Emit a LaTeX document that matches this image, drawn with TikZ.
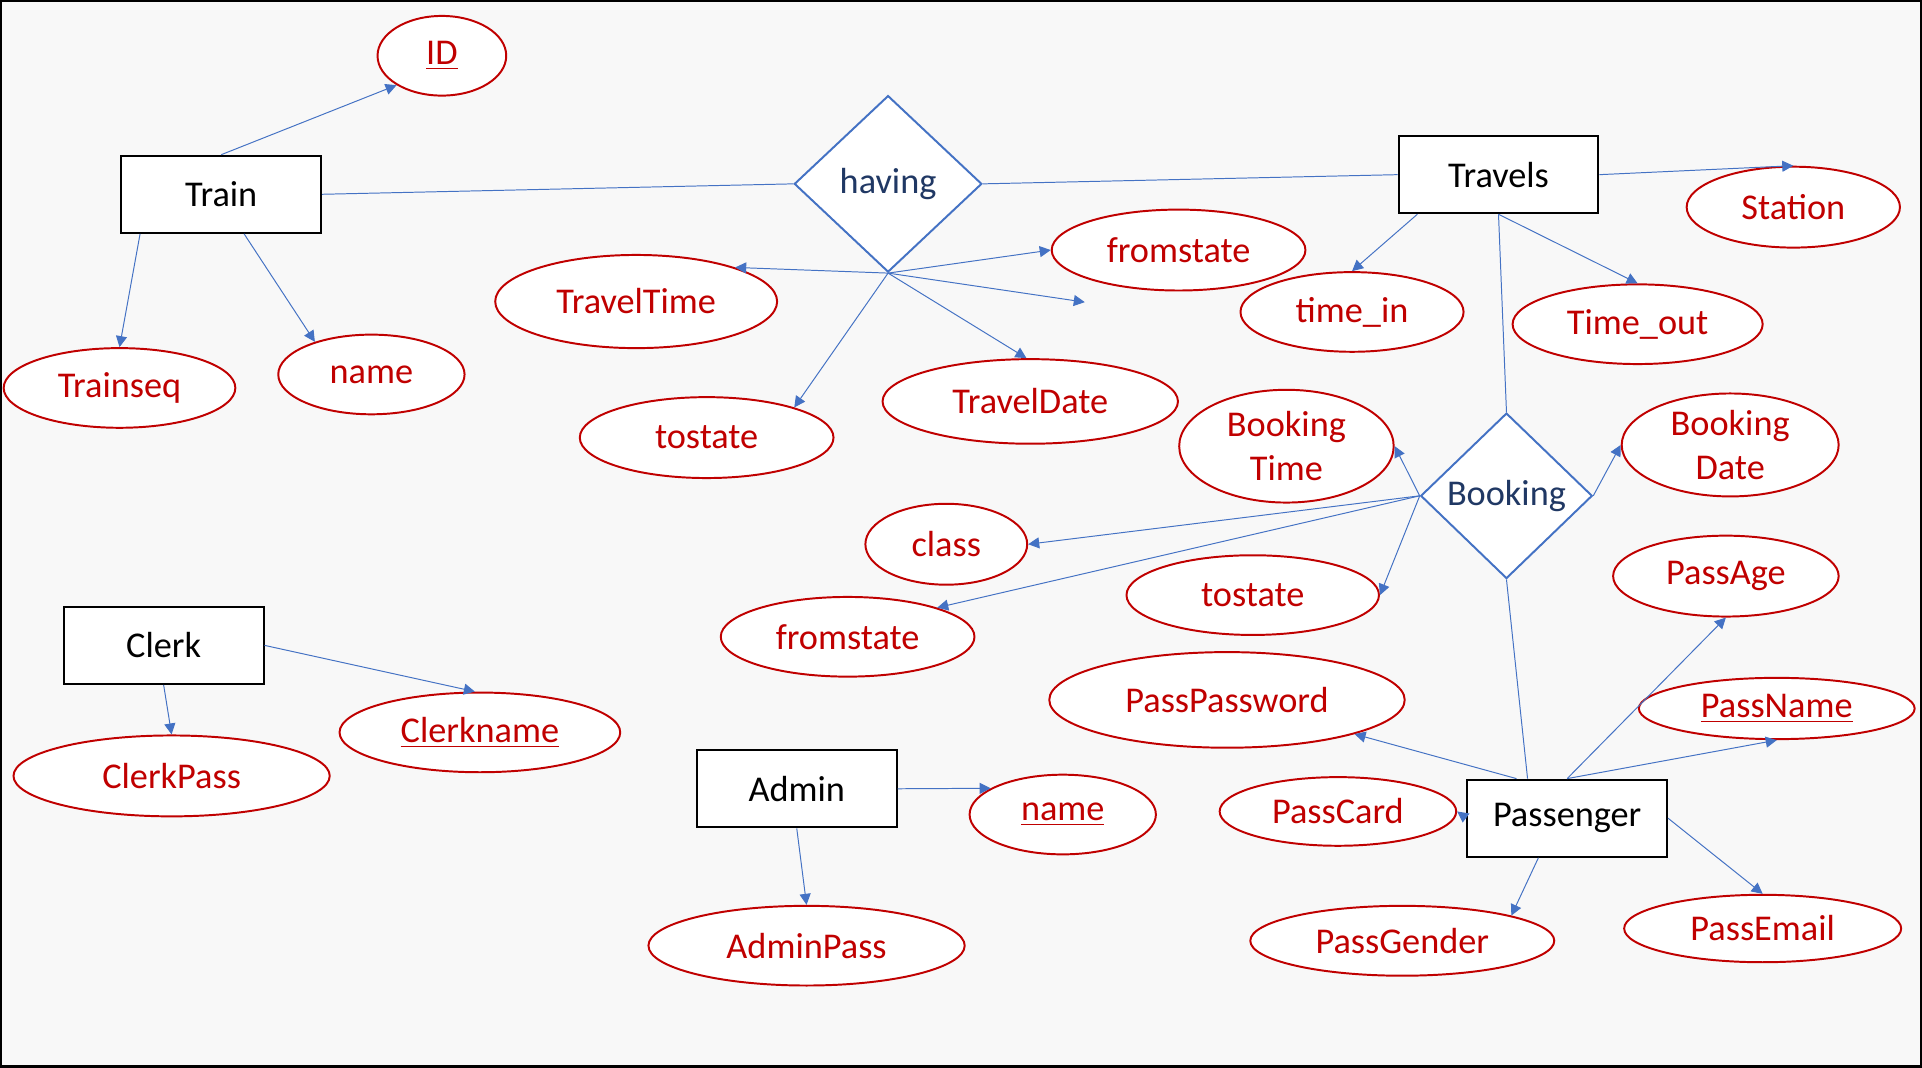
\documentclass[tikz,border=0pt]{standalone}
\usepackage{fontspec}
\setmainfont{Carlito}
\usetikzlibrary{arrows.meta,shapes}

\definecolor{attrred}{HTML}{C00000}
\definecolor{linkblue}{HTML}{4472C4}
\definecolor{relnavy}{HTML}{203864}
\definecolor{paper}{HTML}{F8F8F8}

\begin{document}
\begin{tikzpicture}[x=0.5pt,y=-0.5pt,font=\fontsize{14.8}{18}\selectfont]

\tikzstyle{entity}=[draw=black,line width=0.8pt,fill=white,minimum width=81.5pt,minimum height=31.5pt,inner sep=0pt]
\tikzstyle{attr}=[ellipse,draw=attrred,line width=0.8pt,fill=white,text=attrred,inner sep=0pt,align=center]
\tikzstyle{rel}=[diamond,aspect=1,draw=linkblue,line width=0.8pt,fill=white,text=relnavy,inner sep=0pt]
\tikzstyle{link}=[linkblue,line width=0.4pt]
\tikzstyle{arr}=[link,-{Triangle[length=4.5pt,width=4.5pt]}]

%page
\useasboundingbox (0,0) rectangle (1568,871);
\draw[fill=paper,line width=1pt] (1,1) rectangle (1567,870);

%Train
\node[entity] (train) at (180.5,158.5) {Train};
\node[attr,minimum width=52.5pt,minimum height=32.5pt] (id) at (360.5,45.5) {\underline{ID}};
\node[attr,minimum width=94.5pt,minimum height=32.5pt] (trainseq) at (97.5,316.5) {Trainseq};
\node[attr,minimum width=76pt,minimum height=32.5pt] (trainname) at (303,305.5) {name};

%having
\node[rel,minimum width=76.5pt,minimum height=72pt] (having) at (724.5,150) {having};
\node[attr,minimum width=115pt,minimum height=38pt] (traveltime) at (519,246) {TravelTime};
\node[attr,minimum width=103.5pt,minimum height=33pt] (tostate) at (576.5,357) {tostate};
\node[attr,minimum width=120.5pt,minimum height=34.5pt] (traveldate) at (840.5,327.5) {TravelDate};
\node[attr,minimum width=103.5pt,minimum height=33pt] (fromstate) at (961.5,204) {fromstate};
\coordinate (hv) at (885,246.5);

%Travels
\node[entity] (travels) at (1222.5,142.5) {Travels};
\node[attr,minimum width=91pt,minimum height=32.5pt] (timein) at (1103,254.5) {time\_in};
\node[attr,minimum width=102pt,minimum height=32.5pt] (timeout) at (1336,264.5) {Time\_out};
\node[attr,minimum width=87pt,minimum height=33pt] (station) at (1463,169) {Station};

%Booking
\node[rel,minimum width=70pt,minimum height=67.5pt] (booking) at (1229,404.5) {Booking};
\node[attr,minimum width=87.5pt,minimum height=46pt] (bookingtime) at (1049.5,364) {Booking\\Time};
\node[attr,minimum width=88.5pt,minimum height=42pt] (bookingdate) at (1411.5,363) {Booking\\Date};
\node[attr,minimum width=66pt,minimum height=33pt] (class) at (772,444) {class};
\node[attr,minimum width=103pt,minimum height=32.5pt] (tostatetwo) at (1022,485.5) {tostate};
\node[attr,minimum width=103.5pt,minimum height=32.5pt] (fromstatetwo) at (691.5,519.5) {fromstate};

%Passenger
\node[entity] (passenger) at (1278.5,667.5) {Passenger};
\node[attr,minimum width=92pt,minimum height=33pt] (passage) at (1408,470) {PassAge};
\node[attr,minimum width=145pt,minimum height=39pt] (passpassword) at (1001,571) {PassPassword};
\node[attr,minimum width=112.5pt,minimum height=25pt] (passname) at (1449.5,578) {\underline{PassName}};
\node[attr,minimum width=96.5pt,minimum height=28pt] (passcard) at (1091.5,662) {PassCard};
\node[attr,minimum width=124pt,minimum height=28.5pt] (passgender) at (1144,767.5) {PassGender};
\node[attr,minimum width=113pt,minimum height=27.5pt] (passemail) at (1438,757.5) {PassEmail};

%Clerk
\node[entity] (clerk) at (133.5,526.5) {Clerk};
\node[attr,minimum width=114.5pt,minimum height=32.5pt] (clerkname) at (391.5,597.5) {\underline{Clerkname}};
\node[attr,minimum width=129pt,minimum height=33pt] (clerkpass) at (140,633) {ClerkPass};

%Admin
\node[entity] (admin) at (650,643.5) {Admin};
\node[attr,minimum width=76pt,minimum height=32.5pt] (adminname) at (867,664.5) {\underline{name}};
\node[attr,minimum width=129pt,minimum height=32.5pt] (adminpass) at (658,771.5) {AdminPass};

%Train links
\path [arr] (train.north) edge (id.213)
            (train.206) edge (trainseq.north)
            (train.300) edge (trainname.150);
\path [link] (train.east) edge (having.west)
             (having.east) edge (travels.west);

%having links
\path [arr] (having.south) edge (traveltime.19)
            (having.south) edge (fromstate.west)
            (having.south) edge (hv)
            (having.south) edge (traveldate.95)
            (having.south) edge (tostate.19);

%Travels links
\path [arr] (travels.east) edge (station.north)
            (travels.206) edge (timein.north)
            (travels.south) edge (timeout.north);
\path [link] (travels.south) edge (booking.north);

%Booking links
\path [arr] (booking.west) edge (bookingtime.east)
            (booking.west) edge (class.east)
            (booking.west) edge (fromstatetwo.18)
            (booking.west) edge (tostatetwo.east)
            (booking.east) edge (bookingdate.west);
\path [link] (booking.south) edge (passenger.135);

%Passenger links
\path [arr] (passenger.142) edge (passpassword.345)
            (passenger.north) edge (passage.south)
            (passenger.north) edge (passname.south)
            (passenger.west) edge (passcard.east)
            (passenger.234) edge (passgender.13)
            (passenger.east) edge (passemail.north);

%Clerk and Admin links
\path [arr] (clerk.east) edge (clerkname.97)
            (clerk.south) edge (clerkpass.north)
            (admin.east) edge (adminname.160)
            (admin.south) edge (adminpass.north);

\end{tikzpicture}
\end{document}
